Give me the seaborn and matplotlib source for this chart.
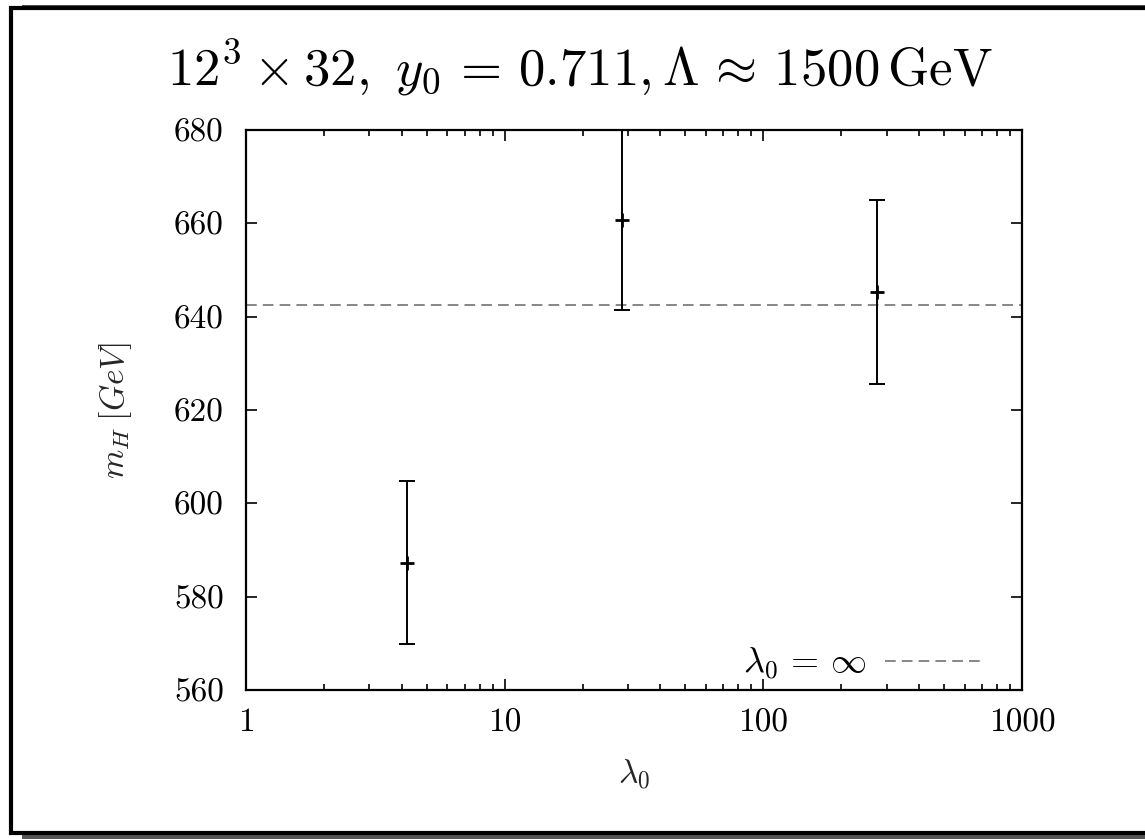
import matplotlib
matplotlib.use("Agg")
import matplotlib.pyplot as plt
import seaborn as sns
import numpy as np
import pandas as pd
from matplotlib.patches import Rectangle
from matplotlib.ticker import FixedLocator, LogLocator, NullFormatter

# Data
lambda0 = [4.2, 28.4, 275.0]
m_H = [587.3, 660.8, 645.3]
m_H_err = [17.4, 19.4, 19.7]
m_H_inf = 642.4
xticks = [1, 10, 100, 1000]
xticklabels = ["1", "10", "100", "1000"]
yticks = [560, 580, 600, 620, 640, 660, 680]

sns.set_theme(style="ticks")
plt.rcParams["mathtext.fontset"] = "cm"
plt.rcParams["font.family"] = ["cmr10", "DejaVu Serif"]
plt.rcParams["axes.formatter.use_mathtext"] = True

fig = plt.figure(figsize=(11.45, 8.39), dpi=100)
W, H = 1145, 839
ax = fig.add_axes([246 / W, 1 - 690 / H, (1022 - 246) / W, (690 - 130) / H])
ax.set_zorder(2)

# Outer frame with shadow
fig.patches.append(Rectangle((22 / W, 0), 1.2, (834 - 0) / H, transform=fig.transFigure,
                             facecolor="#555555", edgecolor="none", zorder=-2))
fig.patches.append(Rectangle((11 / W, 1 - 833 / H), 1.2, (833 - 8) / H, transform=fig.transFigure,
                             facecolor="white", edgecolor="black", linewidth=3.0, zorder=-1))

df = pd.DataFrame({"lambda0": lambda0, "m_H": m_H, "err": m_H_err})

ax.axhline(m_H_inf, color="#666666", lw=1.1, ls=(0, (7, 4)),
           label=r"$\lambda_0 \,=\, \infty$", zorder=1)
ax.errorbar(df["lambda0"], df["m_H"], yerr=df["err"], fmt="none", ecolor="black",
            elinewidth=1.4, capsize=5.5, capthick=1.4, zorder=2)
sns.scatterplot(data=df, x="lambda0", y="m_H", marker="+", s=90, color="black",
                linewidth=2.0, ax=ax, zorder=3, legend=False)

ax.set_xscale("log")
ax.set_xlim(1, 1000)
ax.set_ylim(560, 680)
ax.xaxis.set_major_locator(FixedLocator(xticks))
ax.set_xticklabels(xticklabels)
ax.xaxis.set_minor_locator(LogLocator(base=10, subs=np.arange(2, 10)))
ax.xaxis.set_minor_formatter(NullFormatter())
ax.set_yticks(yticks)
ax.set_yticklabels([str(v) for v in yticks])

for s in ax.spines.values():
    s.set_visible(True)
    s.set_linewidth(1.6)
    s.set_color("black")
ax.tick_params(which="both", direction="in", top=True, right=True, colors="black", labelsize=24, width=1.2)
ax.tick_params(which="major", length=8, pad=13)
ax.tick_params(which="minor", length=4.5)
ax.tick_params(axis="y", pad=16)

ax.set_xlabel(r"$\lambda_0$", fontsize=24, labelpad=14)
ax.set_ylabel(r"$m_H\;[GeV]$", fontsize=24, labelpad=29)
fig.text(580 / W, 1 - 68 / H,
         r"$12^3 \times 32,\ y_0 \,=\, 0.711, \Lambda \,\approx\, 1500\,\mathrm{GeV}$",
         fontsize=38, ha="center", va="center", color="black")

leg = ax.legend(loc="center right", bbox_to_anchor=((982 - 246) / 776, (690 - 664) / 560),
                frameon=False, markerfirst=False, fontsize=26,
                handlelength=2.7, borderaxespad=0, borderpad=0, handletextpad=0.5)
for t in leg.get_texts():
    t.set_color("black")

fig.savefig("out.png", dpi=100)
